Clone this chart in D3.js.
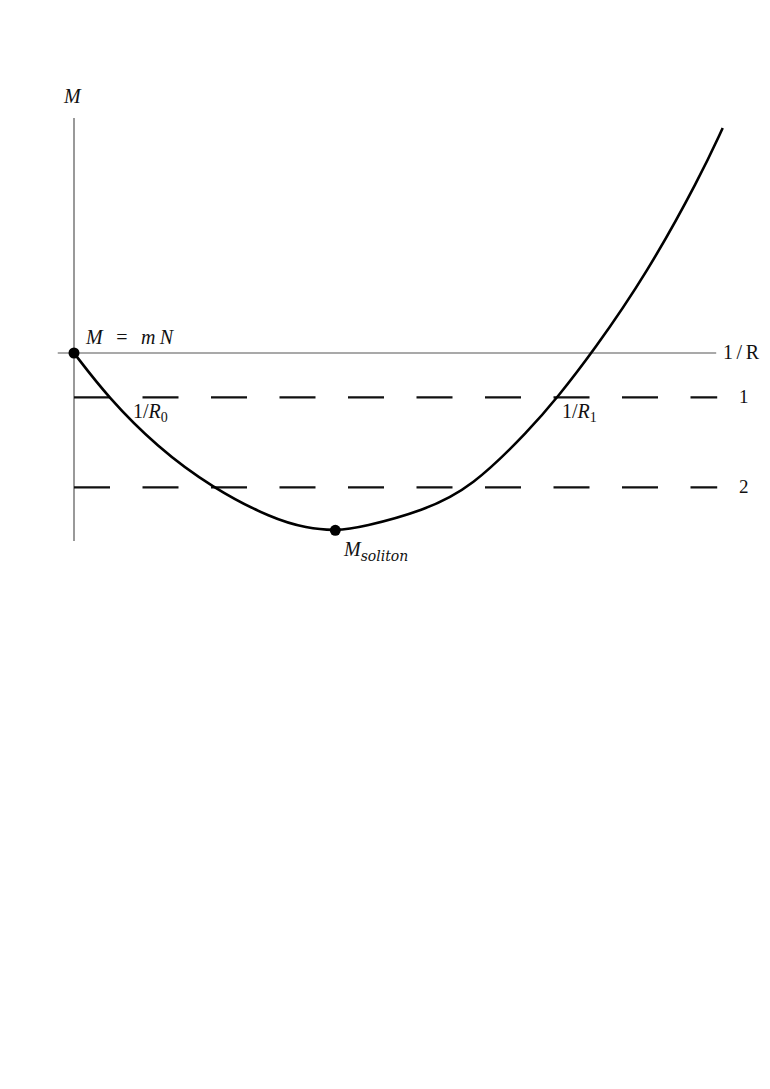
<!DOCTYPE html>
<html>
<head>
<meta charset="utf-8">
<script src="https://cdn.jsdelivr.net/npm/d3@7"></script>
<style>
  html, body { margin: 0; padding: 0; background: #fff; }
  svg { display: block; }
</style>
</head>
<body>
<svg id="chart" width="770" height="1089"></svg>
<script>
// ---- data (abstract units: x = 1/R, y = M relative to mN) ----
const curveX = [0, 0.052, 0.128, 0.212, 0.306, 0.358, 0.402, 0.445, 0.537, 0.612, 0.702, 0.743, 0.798, 0.882, 0.963, 0.998];
const curveY = [0, -0.196, -0.418, -0.598, -0.738, -0.778, -0.791, -0.773, -0.702, -0.598, -0.338, -0.2, 0.004, 0.356, 0.782, 1.0];
const levelNames = ["1", "2"];
const levelValues = [-0.197, -0.597];
const dotX = [0, 0.402];
const dotY = [0, -0.788];
const axisYRange = [-0.836, 1.044];
const axisXRange = [-0.025, 0.988];

// ---- scales ----
const x = d3.scaleLinear().domain([0, 1]).range([74, 724]);
const y = d3.scaleLinear().domain([0, 1]).range([353, 128]);

const SERIF = "'Liberation Serif', 'DejaVu Serif', serif";
const svg = d3.select("#chart");

// vertical axis (M)
svg.append("line")
  .attr("x1", x(0)).attr("x2", x(0))
  .attr("y1", y(axisYRange[1])).attr("y2", y(axisYRange[0]))
  .attr("stroke", "#555").attr("stroke-width", 1.2);

// horizontal axis (1/R)
svg.append("line")
  .attr("x1", x(axisXRange[0])).attr("x2", x(axisXRange[1]))
  .attr("y1", y(0)).attr("y2", y(0))
  .attr("stroke", "#555").attr("stroke-width", 1.2);

// dashed levels
levelValues.forEach((v, i) => {
  svg.append("line")
    .attr("x1", x(0)).attr("x2", x(axisXRange[1]) + 1)
    .attr("y1", y(v)).attr("y2", y(v))
    .attr("stroke", "#111").attr("stroke-width", 2.4)
    .attr("stroke-dasharray", "36 32.5");
  svg.append("text")
    .attr("x", 739).attr("y", y(v) + 6)
    .attr("font-family", SERIF).attr("fill", "#111")
    .attr("font-size", 19)
    .text(levelNames[i]);
});

// curve
const pts = curveX.map((d, i) => [d, curveY[i]]);
svg.append("path")
  .datum(pts)
  .attr("fill", "none")
  .attr("stroke", "#000")
  .attr("stroke-width", 2.6)
  .attr("d", d3.line().x(d => x(d[0])).y(d => y(d[1])).curve(d3.curveBasis));

// dots
dotX.forEach((d, i) => {
  svg.append("circle")
    .attr("cx", x(d)).attr("cy", y(dotY[i]))
    .attr("r", 5.5).attr("fill", "#000");
});

// labels
function label(xp, yp) {
  return svg.append("text").attr("x", xp).attr("y", yp)
    .attr("font-family", SERIF).attr("fill", "#111").attr("font-size", 20);
}

label(64, 103).attr("font-style", "italic").text("M");

const t1 = label(86, 344).attr("textLength", 87).attr("lengthAdjust", "spacing");
t1.append("tspan").attr("font-style", "italic").text("M");
t1.append("tspan").text(" = ");
t1.append("tspan").attr("font-style", "italic").text("mN");

const t2 = label(133, 418);
t2.append("tspan").text("1/");
t2.append("tspan").attr("font-style", "italic").text("R");
t2.append("tspan").attr("font-size", 14).attr("dy", 4).text("0");

const t3 = label(562, 418);
t3.append("tspan").text("1/");
t3.append("tspan").attr("font-style", "italic").text("R");
t3.append("tspan").attr("font-size", 14).attr("dy", 4).text("1");

const t4 = label(344, 556);
t4.append("tspan").attr("font-style", "italic").text("M");
t4.append("tspan").attr("font-style", "italic").attr("font-family", "'DejaVu Serif', serif")
  .attr("font-size", 14).attr("dy", 5).text("soliton");

label(723, 359).attr("textLength", 36).attr("lengthAdjust", "spacing").text("1/R");
</script>
</body>
</html>
